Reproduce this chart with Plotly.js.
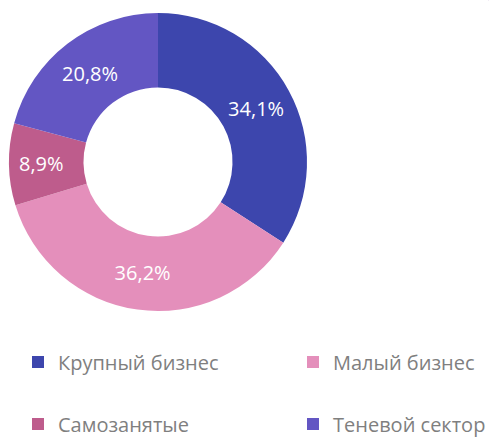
<!DOCTYPE html>
<html>
<head>
<meta charset="utf-8">
<script src="https://cdn.plot.ly/plotly-3.0.1.min.js"></script>
<style>html,body{margin:0;padding:0;background:#fff;}#chart{width:489px;height:438px;}</style>
</head>
<body>
<div id="chart"></div>
<script>
const categories = ["Крупный бизнес", "Малый бизнес", "Самозанятые", "Теневой сектор"];
const shares = [34.1, 36.2, 8.9, 20.8];
const colors = ["#3D46AD", "#E48FBB", "#BE5C8C", "#6356C3"];

const FONT = "Open Sans, Noto Sans, sans-serif";

const mainPie = {
  type: "pie",
  labels: categories,
  values: shares,
  sort: false,
  direction: "clockwise",
  rotation: 0,
  hole: 0.5,
  marker: {colors: colors, line: {color: "#ffffff", width: 0}},
  texttemplate: "%{value:.1f}%",
  textposition: "inside",
  insidetextorientation: "horizontal",
  textfont: {color: "#ffffff", size: 20, family: FONT},
  domain: {x: [9/489, 307/489], y: [1 - 311/438, 1 - 13/438]},
  showlegend: false,
  hoverinfo: "label+percent"
};

const legendIds = ["legend", "legend2", "legend3", "legend4"];
// legend slots: column / row placement in pixels (layout only)
const slotX = [18, 293, 18, 293];
const slotY = [362, 362, 424, 424];

const legendPies = categories.map((c, i) => ({
  type: "pie",
  labels: [c],
  values: [shares[i]],
  sort: false,
  marker: {colors: [colors[i]], line: {width: 0}},
  textinfo: "none",
  hoverinfo: "skip",
  domain: {x: [0.9995, 1], y: [0.9995, 1]},
  legend: legendIds[i],
  showlegend: true
}));

const layout = {
  width: 489,
  height: 438,
  margin: {l: 0, r: 0, t: 0, b: 0, autoexpand: false},
  paper_bgcolor: "#ffffff",
  separators: ", "
};
legendIds.forEach((id, i) => {
  layout[id] = {
    orientation: "h",
    xanchor: "left",
    yanchor: "middle",
    x: slotX[i] / 489,
    y: 1 - slotY[i] / 438,
    font: {family: FONT, size: 20, color: "#7F7F7F"},
    bgcolor: "rgba(0,0,0,0)"
  };
});

Plotly.newPlot("chart", [mainPie].concat(legendPies), layout, {displayModeBar: false, staticPlot: true});
</script>
</body>
</html>
